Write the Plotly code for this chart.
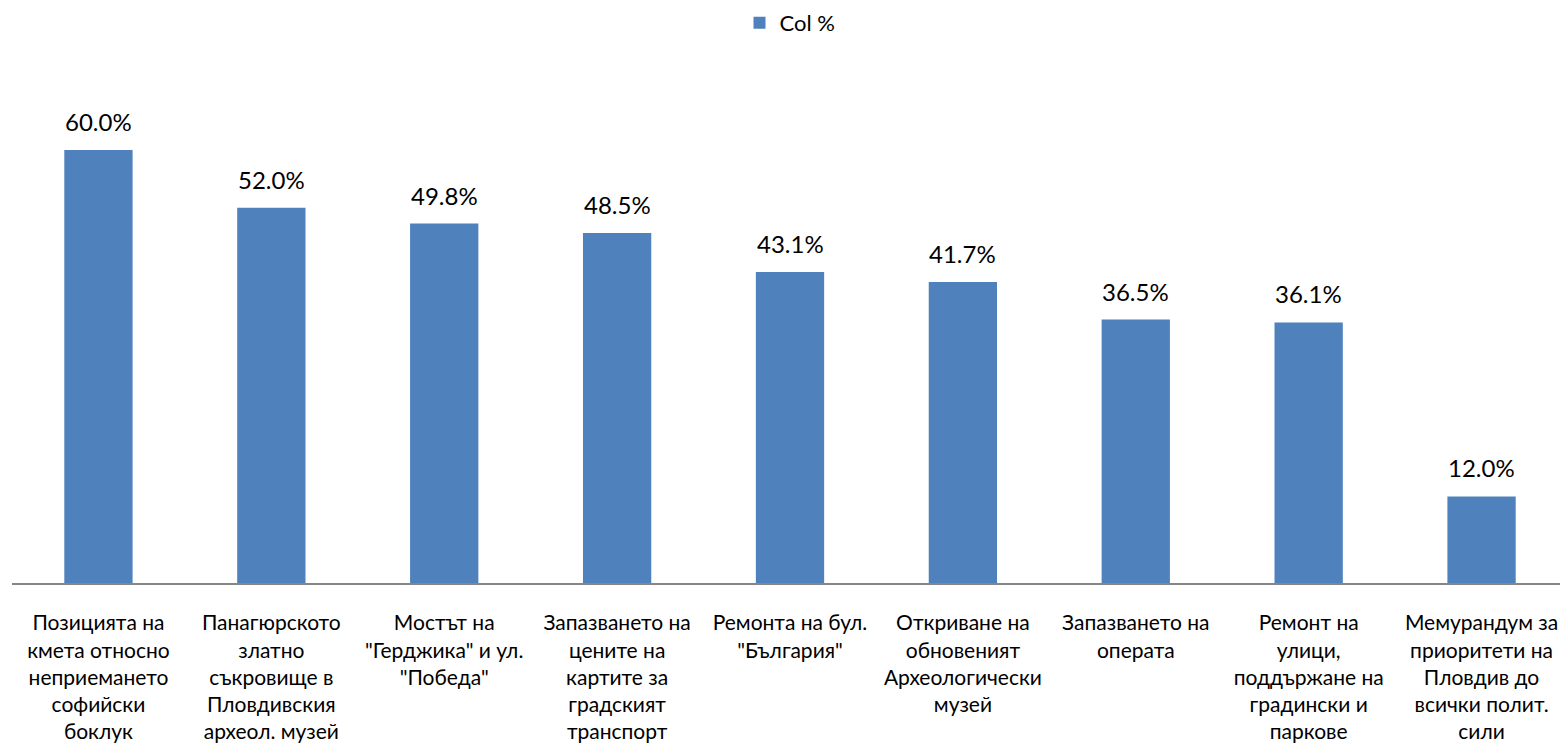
import plotly.graph_objects as go

categories = [
    "Позицията на<br>кмета относно<br>неприемането<br>софийски<br>боклук",
    "Панагюрското<br>златно<br>съкровище в<br>Пловдивския<br>археол. музей",
    "Мостът на<br>\"Герджика\" и ул.<br>\"Победа\"",
    "Запазването на<br>цените на<br>картите за<br>градският<br>транспорт",
    "Ремонта на бул.<br>\"България\"",
    "Откриване на<br>обновеният<br>Археологически<br>музей",
    "Запазването на<br>операта",
    "Ремонт на<br>улици,<br>поддържане на<br>градински и<br>паркове",
    "Мемурандум за<br>приоритети на<br>Пловдив до<br>всички полит.<br>сили",
]
values = [60.0, 52.0, 49.8, 48.5, 43.1, 41.7, 36.5, 36.1, 12.0]
series_name = "Col %"

FONT = "Lato"
xs = list(range(len(categories)))

fig = go.Figure()
fig.add_trace(go.Bar(
    x=xs,
    y=values,
    name=series_name,
    marker=dict(color="#4F81BD", line=dict(width=0)),
    showlegend=True,
))

for x, v in zip(xs, values):
    fig.add_annotation(
        x=x, y=v, xref="x", yref="y",
        text=f"{v:.1f}%", showarrow=False,
        yanchor="bottom", yshift=12,
        font=dict(family=FONT, size=24, color="#000000"),
    )

fig.update_layout(
    width=1560, height=746,
    paper_bgcolor="white", plot_bgcolor="white",
    margin=dict(l=4, r=0, t=72, b=171, autoexpand=False),
    bargap=0.605,
    font=dict(family=FONT, size=21, color="#000000"),
    legend=dict(orientation="h", x=0.5, xanchor="center", xref="paper",
                y=1.155, yanchor="top", yref="paper",
                font=dict(family=FONT, size=22), itemwidth=30),
)

fig.update_xaxes(
    tickmode="array",
    tickvals=xs,
    ticktext=categories,
    range=[-0.5, len(categories) - 0.5],
    showline=True, linecolor="#868686", linewidth=2,
    ticks="", showgrid=False, zeroline=False,
    tickangle=0,
    ticklabelstandoff=20,
    tickfont=dict(family=FONT, size=21),
)
fig.update_yaxes(
    range=[0, 69.7],
    visible=False, showgrid=False, zeroline=False,
)

fig.write_html("out.html")
